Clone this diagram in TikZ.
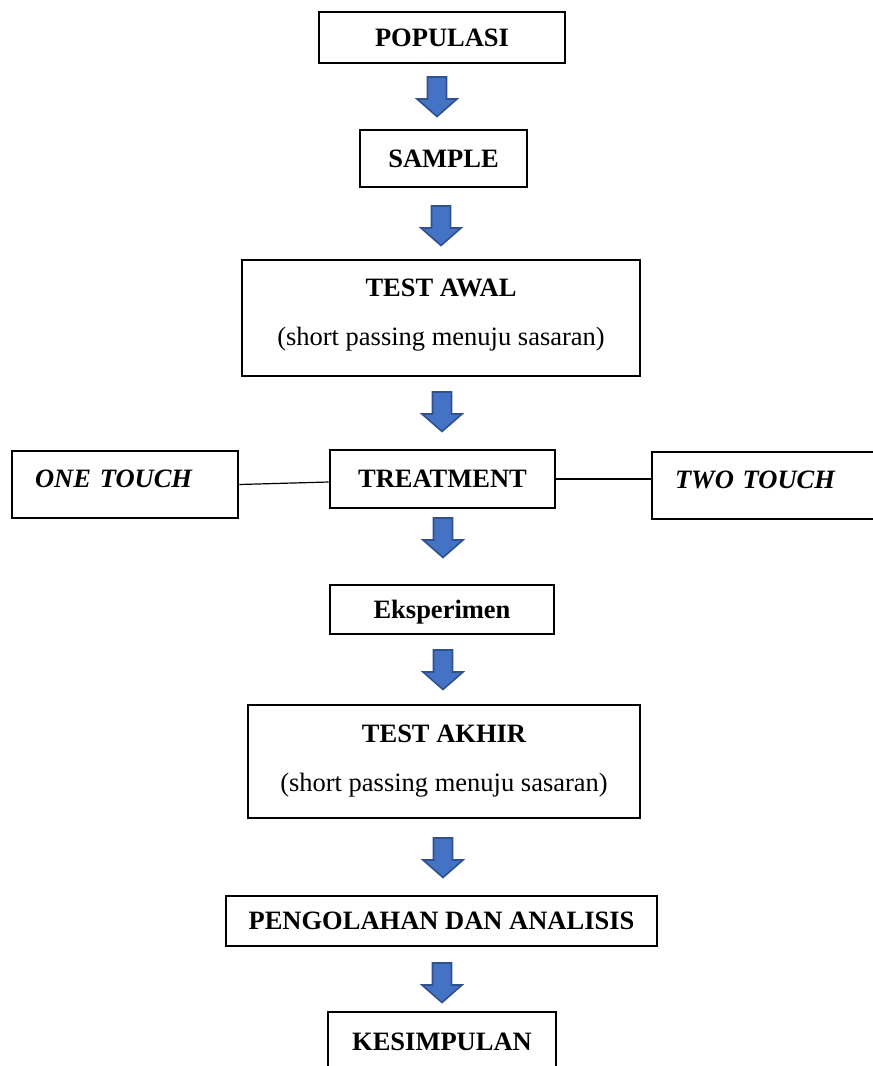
\documentclass[tikz,border=0pt]{standalone}
\usepackage{fontspec}
\setmainfont{Liberation Serif}
\usetikzlibrary{positioning, calc}
\definecolor{arrowblue}{HTML}{4472C4}
\definecolor{arrowedge}{HTML}{2F528F}

\tikzset{
  box/.style={draw, line width=2.6pt, inner sep=0pt, font=\fontsize{26.5}{30}\selectfont\bfseries},
  sidebox/.style={box, font=\fontsize{26.5}{30}\selectfont\bfseries\itshape, text width=180pt, inner xsep=23pt, align=left, text depth=11pt},
  joinline/.style={line width=1.2pt},
  blockarrow/.pic={
    \draw[fill=arrowblue, draw=arrowedge, line width=1.6pt, line join=miter]
      (-9.5,0) -- (9.5,0) -- (9.5,-22) -- (20,-22) -- (0,-39.5) -- (-20,-22) -- (-9.5,-22) -- cycle;
  }
}

\begin{document}
\begin{tikzpicture}[x=1pt, y=1pt]
\useasboundingbox (0,0) rectangle (873,-1066);
\clip (0,0) rectangle (873,-1066);

\node (pop) [box, minimum width=246pt, minimum height=51pt] at (442,-37.5) {POPULASI};
\node (sam) [box, minimum width=167pt, minimum height=57pt] at (443.5,-158.5) {SAMPLE};
\node (awal) [box, minimum width=398pt, minimum height=116pt, align=center, text depth=11pt] at (441,-318)
  {TEST AWAL\\[19pt]{\mdseries (short passing menuju sasaran)}};
\node (treat) [box, minimum width=225pt, minimum height=58pt] at (442.5,-479) {TREATMENT};
\node (one) [sidebox, minimum height=67pt] at (125,-484.5) {ONE TOUCH};
\node (two) [sidebox, minimum height=67pt] at (765,-485.5) {TWO TOUCH};
\node (eks) [box, minimum width=224pt, minimum height=49pt, text height=24pt] at (442,-609.5) {Eksperimen};
\node (akhir) [box, minimum width=392pt, minimum height=113pt, align=center, text depth=6pt] at (444,-761.5)
  {TEST AKHIR\\[19pt]{\mdseries (short passing menuju sasaran)}};
\node (peng) [box, minimum width=431pt, minimum height=50pt] at (441.5,-921) {PENGOLAHAN DAN ANALISIS};
\node (kes) [box, minimum width=228pt, minimum height=60pt] at (442,-1042) {KESIMPULAN};

\draw[joinline] (one.east) -- ($(treat.west)+(0,-3)$);
\draw[joinline] (treat.east) -- (treat.east -| two.west);

\pic at (437,-77) {blockarrow};
\pic at (441,-206) {blockarrow};
\pic at (442,-392) {blockarrow};
\pic at (443,-518) {blockarrow};
\pic at (443,-650) {blockarrow};
\pic at (443,-838) {blockarrow};
\pic at (442,-963) {blockarrow};

\end{tikzpicture}
\end{document}
